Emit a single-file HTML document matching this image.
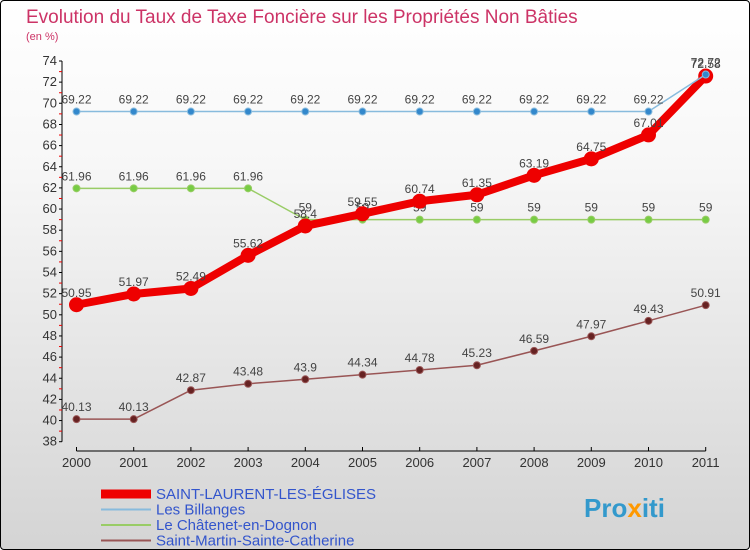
<!DOCTYPE html>
<html><head><meta charset="utf-8"><style>
body{margin:0;}
#c{width:748px;height:548px;border:1px solid #000;border-radius:4px;overflow:hidden;background:linear-gradient(#fff,#f7f7f7 30%,#d4d4d4);position:relative;font-family:"Liberation Sans",sans-serif;}
text{font-family:"Liberation Sans",sans-serif;}
</style></head><body>
<div id="c">
<svg id="s" width="748" height="548" xmlns="http://www.w3.org/2000/svg">
<text x="25" y="22" font-size="19" fill="#cc3366">Evolution du Taux de Taxe Foncière sur les Propriétés Non Bâties</text>
<text x="25" y="39" font-size="11" fill="#cc3366">(en %)</text>
<g id="axes"></g><g id="series"></g><g id="legend"></g>
<text x="583" y="516" font-size="26" font-weight="bold" fill="#3399cc">Pro<tspan fill="#ff9900">x</tspan>iti</text>
</svg></div>
<script>
const years=[2000,2001,2002,2003,2004,2005,2006,2007,2008,2009,2010,2011];
const yTicks=[38,40,42,44,46,48,50,52,54,56,58,60,62,64,66,68,70,72,74];
const stLaurent=[50.95,51.97,52.49,55.62,58.4,59.55,60.74,61.35,63.19,64.75,67.01,72.58];
const billanges=[69.22,69.22,69.22,69.22,69.22,69.22,69.22,69.22,69.22,69.22,69.22,72.72];
const chatenet=[61.96,61.96,61.96,61.96,59,59,59,59,59,59,59,59];
const stMartin=[40.13,40.13,42.87,43.48,43.9,44.34,44.78,45.23,46.59,47.97,49.43,50.91];
const NS="http://www.w3.org/2000/svg";
const xS=i=>75.5+i*57.2;
const yS=v=>440.7-(v-38)*(380.7/36);
function mk(p,t,a){const e=document.createElementNS(NS,t);for(const k in a)e.setAttribute(k,a[k]);p.appendChild(e);return e;}
const ax=document.getElementById('axes');
mk(ax,'line',{x1:61,y1:yS(74),x2:61,y2:yS(38),stroke:'#000'});
mk(ax,'line',{x1:75.5,y1:450,x2:xS(11),y2:450,stroke:'#000'});
yTicks.forEach(v=>{
 mk(ax,'line',{x1:58,y1:yS(v),x2:61,y2:yS(v),stroke:'#000'});
 if(v<74)mk(ax,'line',{x1:58,y1:yS(v+1),x2:61,y2:yS(v+1),stroke:'#e00'});
 const t=mk(ax,'text',{x:56,y:yS(v)+4,'font-size':13,'text-anchor':'end',fill:'#333'});t.textContent=v;
 
 
});
years.forEach((y,i)=>{
 mk(ax,'line',{x1:xS(i),y1:446,x2:xS(i),y2:450,stroke:'#000'});
 const t=mk(ax,'text',{x:xS(i),y:466,'font-size':13,'text-anchor':'middle',fill:'#333'});t.textContent=y;
 
 
});
const sg=document.getElementById('series');
function series(vals,color,lw,r,dot,name){
 const g=mk(sg,'g',{});
 
 
 mk(g,'polyline',{points:vals.map((v,i)=>xS(i)+','+yS(v)).join(' '),fill:'none',stroke:color,'stroke-width':lw,'stroke-linejoin':'round'});
 vals.forEach((v,i)=>{
  const c=mk(g,'circle',{cx:xS(i),cy:yS(v),r:r,fill:dot,stroke:color,'stroke-width':1});
  
  
  const t=mk(g,'text',{x:xS(i),y:yS(v)-8,'font-size':12,'text-anchor':'middle',fill:'#444'});t.textContent=v;
  
  
 });
}
series(stMartin,'#995555',1.5,3.5,'#662222','saint-martin-series');
series(chatenet,'#99cc66',1.5,3.5,'#77cc44','chatenet-series');
series(stLaurent,'#ee0000',8,7,'#ee0000','saint-laurent-series');
series(billanges,'#88bbdd',1.5,3.5,'#3388cc','billanges-series');
const lg=document.getElementById('legend');
const items=[['SAINT-LAURENT-LES-ÉGLISES','#ee0000',9],['Les Billanges','#88bbdd',2],['Le Châtenet-en-Dognon','#99cc66',2],['Saint-Martin-Sainte-Catherine','#995555',2]];
items.forEach((it,i)=>{
 const y=493+i*15.5;
 const g=mk(lg,'g',{});
 
 
 mk(g,'line',{x1:100,y1:y,x2:150,y2:y,stroke:it[1],'stroke-width':it[2]});
 const t=mk(g,'text',{x:155,y:y+5,'font-size':15,fill:'#3355cc'});t.textContent=it[0];
});
</script>
</body></html>
